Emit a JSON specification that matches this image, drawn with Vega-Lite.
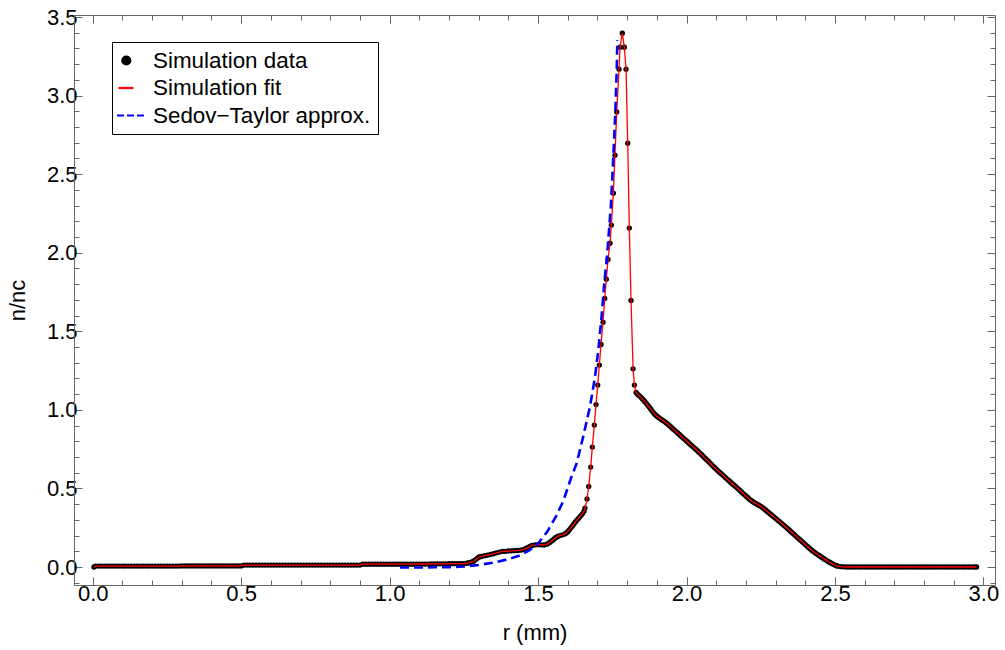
{
  "$schema": "https://vega.github.io/schema/vega-lite/v6.json",
  "width": 921,
  "height": 570,
  "autosize": "none",
  "padding": {"left": 74, "top": 15, "right": 10, "bottom": 65},
  "background": "white",
  "config": {"view": {"stroke": null}, "font": "Liberation Sans"},
  "datasets": {
    "sim": [
      {"r":0.004,"n":0.0},{"r":0.01,"n":0.006},{"r":0.02,"n":0.006},{"r":0.03,"n":0.006},{"r":0.04,"n":0.006},{"r":0.05,"n":0.006},{"r":0.06,"n":0.006},{"r":0.07,"n":0.006},{"r":0.08,"n":0.006},{"r":0.09,"n":0.006},{"r":0.10,"n":0.006},
      {"r":0.11,"n":0.006},{"r":0.12,"n":0.006},{"r":0.13,"n":0.006},{"r":0.14,"n":0.006},{"r":0.15,"n":0.006},{"r":0.16,"n":0.006},{"r":0.17,"n":0.006},{"r":0.18,"n":0.006},{"r":0.19,"n":0.006},{"r":0.20,"n":0.006},
      {"r":0.21,"n":0.006},{"r":0.22,"n":0.006},{"r":0.23,"n":0.006},{"r":0.24,"n":0.006},{"r":0.25,"n":0.006},{"r":0.26,"n":0.006},{"r":0.27,"n":0.006},{"r":0.28,"n":0.006},{"r":0.29,"n":0.006},{"r":0.30,"n":0.007},
      {"r":0.31,"n":0.007},{"r":0.32,"n":0.007},{"r":0.33,"n":0.007},{"r":0.34,"n":0.007},{"r":0.35,"n":0.007},{"r":0.36,"n":0.007},{"r":0.37,"n":0.007},{"r":0.38,"n":0.007},{"r":0.39,"n":0.007},{"r":0.40,"n":0.007},
      {"r":0.41,"n":0.007},{"r":0.42,"n":0.007},{"r":0.43,"n":0.007},{"r":0.44,"n":0.007},{"r":0.45,"n":0.007},{"r":0.46,"n":0.007},{"r":0.47,"n":0.007},{"r":0.48,"n":0.007},{"r":0.49,"n":0.007},{"r":0.50,"n":0.007},
      {"r":0.51,"n":0.012},{"r":0.52,"n":0.012},{"r":0.53,"n":0.012},{"r":0.54,"n":0.012},{"r":0.55,"n":0.012},{"r":0.56,"n":0.012},{"r":0.57,"n":0.012},{"r":0.58,"n":0.012},{"r":0.59,"n":0.012},{"r":0.60,"n":0.012},
      {"r":0.61,"n":0.012},{"r":0.62,"n":0.012},{"r":0.63,"n":0.012},{"r":0.64,"n":0.012},{"r":0.65,"n":0.012},{"r":0.66,"n":0.012},{"r":0.67,"n":0.012},{"r":0.68,"n":0.012},{"r":0.69,"n":0.012},{"r":0.70,"n":0.012},
      {"r":0.71,"n":0.012},{"r":0.72,"n":0.012},{"r":0.73,"n":0.012},{"r":0.74,"n":0.012},{"r":0.75,"n":0.012},{"r":0.76,"n":0.012},{"r":0.77,"n":0.012},{"r":0.78,"n":0.012},{"r":0.79,"n":0.012},{"r":0.80,"n":0.012},
      {"r":0.81,"n":0.012},{"r":0.82,"n":0.012},{"r":0.83,"n":0.012},{"r":0.84,"n":0.012},{"r":0.85,"n":0.012},{"r":0.86,"n":0.012},{"r":0.87,"n":0.012},{"r":0.88,"n":0.012},{"r":0.89,"n":0.012},{"r":0.90,"n":0.012},
      {"r":0.91,"n":0.018},{"r":0.92,"n":0.018},{"r":0.93,"n":0.018},{"r":0.94,"n":0.018},{"r":0.95,"n":0.018},{"r":0.96,"n":0.018},{"r":0.97,"n":0.018},{"r":0.98,"n":0.018},{"r":0.99,"n":0.018},{"r":1.00,"n":0.018},
      {"r":1.01,"n":0.018},{"r":1.02,"n":0.018},{"r":1.03,"n":0.018},{"r":1.04,"n":0.018},{"r":1.05,"n":0.018},{"r":1.06,"n":0.018},{"r":1.07,"n":0.018},{"r":1.08,"n":0.018},{"r":1.09,"n":0.019},{"r":1.10,"n":0.019},
      {"r":1.11,"n":0.019},{"r":1.12,"n":0.019},{"r":1.13,"n":0.019},{"r":1.14,"n":0.020},{"r":1.15,"n":0.020},{"r":1.16,"n":0.020},{"r":1.17,"n":0.020},{"r":1.18,"n":0.020},{"r":1.19,"n":0.020},{"r":1.20,"n":0.021},
      {"r":1.21,"n":0.021},{"r":1.22,"n":0.021},{"r":1.23,"n":0.021},{"r":1.24,"n":0.022},{"r":1.25,"n":0.022},{"r":1.26,"n":0.024},{"r":1.265,"n":0.026},{"r":1.27,"n":0.028},{"r":1.275,"n":0.031},{"r":1.28,"n":0.034},{"r":1.285,"n":0.040},{"r":1.29,"n":0.047},{"r":1.295,"n":0.055},{"r":1.30,"n":0.062},
      {"r":1.305,"n":0.066},{"r":1.31,"n":0.068},{"r":1.32,"n":0.072},{"r":1.33,"n":0.076},{"r":1.34,"n":0.080},{"r":1.35,"n":0.085},{"r":1.36,"n":0.090},{"r":1.37,"n":0.095},{"r":1.38,"n":0.099},{"r":1.39,"n":0.100},{"r":1.40,"n":0.102},
      {"r":1.41,"n":0.103},{"r":1.42,"n":0.104},{"r":1.43,"n":0.105},{"r":1.44,"n":0.107},{"r":1.45,"n":0.110},{"r":1.455,"n":0.114},{"r":1.46,"n":0.118},{"r":1.465,"n":0.123},{"r":1.47,"n":0.128},{"r":1.475,"n":0.133},{"r":1.48,"n":0.137},{"r":1.49,"n":0.141},{"r":1.50,"n":0.142},
      {"r":1.51,"n":0.141},{"r":1.52,"n":0.140},{"r":1.53,"n":0.145},{"r":1.535,"n":0.151},{"r":1.54,"n":0.158},{"r":1.545,"n":0.165},{"r":1.55,"n":0.172},{"r":1.555,"n":0.180},{"r":1.56,"n":0.188},{"r":1.565,"n":0.193},{"r":1.57,"n":0.198},{"r":1.58,"n":0.203},{"r":1.59,"n":0.210},{"r":1.595,"n":0.217},{"r":1.60,"n":0.225},
      {"r":1.605,"n":0.236},{"r":1.61,"n":0.248},{"r":1.615,"n":0.260},{"r":1.62,"n":0.272},{"r":1.625,"n":0.285},{"r":1.63,"n":0.297},{"r":1.635,"n":0.307},{"r":1.64,"n":0.318},{"r":1.645,"n":0.329},{"r":1.65,"n":0.340},{"r":1.655,"n":0.357},{"r":1.658,"n":0.375},
      {"r":1.6649,"n":0.433},{"r":1.6706,"n":0.513},{"r":1.6773,"n":0.636},{"r":1.6827,"n":0.763},{"r":1.6895,"n":0.903},{"r":1.6952,"n":1.034},{"r":1.701,"n":1.158},{"r":1.7063,"n":1.285},{"r":1.712,"n":1.416},{"r":1.7188,"n":1.558},
      {"r":1.7245,"n":1.709},{"r":1.730,"n":1.832},{"r":1.7356,"n":1.957},{"r":1.7424,"n":2.061},{"r":1.7468,"n":2.176},{"r":1.7535,"n":2.379},{"r":1.759,"n":2.621},{"r":1.7649,"n":2.896},{"r":1.7727,"n":3.168},{"r":1.776,"n":3.308},
      {"r":1.7838,"n":3.397},{"r":1.7906,"n":3.308},{"r":1.7963,"n":3.168},{"r":1.802,"n":2.697},{"r":1.8073,"n":2.157},{"r":1.8131,"n":1.696},{"r":1.820,"n":1.261},{"r":1.8245,"n":1.158},{"r":1.830,"n":1.111},
      {"r":1.835,"n":1.100},{"r":1.84,"n":1.092},{"r":1.845,"n":1.083},{"r":1.85,"n":1.073},{"r":1.855,"n":1.063},{"r":1.86,"n":1.052},{"r":1.865,"n":1.040},{"r":1.87,"n":1.028},{"r":1.875,"n":1.016},{"r":1.88,"n":1.004},{"r":1.885,"n":0.991},{"r":1.89,"n":0.979},{"r":1.895,"n":0.969},{"r":1.90,"n":0.960},
      {"r":1.905,"n":0.953},{"r":1.91,"n":0.946},{"r":1.915,"n":0.940},{"r":1.92,"n":0.933},{"r":1.925,"n":0.927},{"r":1.93,"n":0.920},{"r":1.935,"n":0.912},{"r":1.94,"n":0.904},{"r":1.945,"n":0.896},{"r":1.95,"n":0.887},{"r":1.955,"n":0.879},{"r":1.96,"n":0.870},{"r":1.965,"n":0.862},{"r":1.97,"n":0.853},{"r":1.975,"n":0.845},{"r":1.98,"n":0.836},{"r":1.985,"n":0.828},{"r":1.99,"n":0.819},{"r":1.995,"n":0.811},{"r":2.00,"n":0.802},
      {"r":2.005,"n":0.794},{"r":2.01,"n":0.785},{"r":2.015,"n":0.777},{"r":2.02,"n":0.768},{"r":2.025,"n":0.760},{"r":2.03,"n":0.751},{"r":2.035,"n":0.743},{"r":2.04,"n":0.734},{"r":2.045,"n":0.725},{"r":2.05,"n":0.716},{"r":2.055,"n":0.707},{"r":2.06,"n":0.697},{"r":2.065,"n":0.688},{"r":2.07,"n":0.679},{"r":2.075,"n":0.670},{"r":2.08,"n":0.660},{"r":2.085,"n":0.651},{"r":2.09,"n":0.641},{"r":2.095,"n":0.632},{"r":2.10,"n":0.623},
      {"r":2.105,"n":0.614},{"r":2.11,"n":0.605},{"r":2.115,"n":0.597},{"r":2.12,"n":0.588},{"r":2.125,"n":0.580},{"r":2.13,"n":0.571},{"r":2.135,"n":0.563},{"r":2.14,"n":0.554},{"r":2.145,"n":0.546},{"r":2.15,"n":0.537},{"r":2.155,"n":0.529},{"r":2.16,"n":0.521},{"r":2.165,"n":0.513},{"r":2.17,"n":0.504},{"r":2.175,"n":0.496},{"r":2.18,"n":0.487},{"r":2.185,"n":0.478},{"r":2.19,"n":0.469},{"r":2.195,"n":0.461},{"r":2.20,"n":0.452},
      {"r":2.205,"n":0.444},{"r":2.21,"n":0.435},{"r":2.215,"n":0.427},{"r":2.22,"n":0.420},{"r":2.225,"n":0.414},{"r":2.23,"n":0.408},{"r":2.235,"n":0.403},{"r":2.24,"n":0.397},{"r":2.245,"n":0.392},{"r":2.25,"n":0.386},{"r":2.255,"n":0.380},{"r":2.26,"n":0.373},{"r":2.265,"n":0.365},{"r":2.27,"n":0.357},{"r":2.275,"n":0.349},{"r":2.28,"n":0.341},{"r":2.285,"n":0.333},{"r":2.29,"n":0.325},{"r":2.295,"n":0.318},{"r":2.30,"n":0.310},
      {"r":2.305,"n":0.302},{"r":2.31,"n":0.294},{"r":2.315,"n":0.286},{"r":2.32,"n":0.278},{"r":2.325,"n":0.270},{"r":2.33,"n":0.262},{"r":2.335,"n":0.254},{"r":2.34,"n":0.245},{"r":2.345,"n":0.237},{"r":2.35,"n":0.228},{"r":2.355,"n":0.220},{"r":2.36,"n":0.211},{"r":2.365,"n":0.203},{"r":2.37,"n":0.194},{"r":2.375,"n":0.186},{"r":2.38,"n":0.177},{"r":2.385,"n":0.169},{"r":2.39,"n":0.160},{"r":2.395,"n":0.152},{"r":2.40,"n":0.143},
      {"r":2.405,"n":0.135},{"r":2.41,"n":0.126},{"r":2.415,"n":0.118},{"r":2.42,"n":0.110},{"r":2.425,"n":0.102},{"r":2.43,"n":0.095},{"r":2.435,"n":0.088},{"r":2.44,"n":0.082},{"r":2.445,"n":0.075},{"r":2.45,"n":0.069},{"r":2.455,"n":0.062},{"r":2.46,"n":0.056},{"r":2.465,"n":0.050},{"r":2.47,"n":0.044},{"r":2.475,"n":0.038},{"r":2.48,"n":0.032},{"r":2.485,"n":0.027},{"r":2.49,"n":0.022},{"r":2.495,"n":0.017},{"r":2.50,"n":0.012},
      {"r":2.505,"n":0.008},{"r":2.51,"n":0.005},{"r":2.52,"n":0.002},{"r":2.53,"n":0.001},{"r":2.54,"n":0.0},{"r":2.55,"n":0.0},{"r":2.56,"n":0.0},{"r":2.57,"n":0.0},{"r":2.58,"n":0.0},{"r":2.59,"n":0.0},{"r":2.60,"n":0.0},
      {"r":2.61,"n":0.0},{"r":2.62,"n":0.0},{"r":2.63,"n":0.0},{"r":2.64,"n":0.0},{"r":2.65,"n":0.0},{"r":2.66,"n":0.0},{"r":2.67,"n":0.0},{"r":2.68,"n":0.0},{"r":2.69,"n":0.0},{"r":2.70,"n":0.0},
      {"r":2.71,"n":0.0},{"r":2.72,"n":0.0},{"r":2.73,"n":0.0},{"r":2.74,"n":0.0},{"r":2.75,"n":0.0},{"r":2.76,"n":0.0},{"r":2.77,"n":0.0},{"r":2.78,"n":0.0},{"r":2.79,"n":0.0},{"r":2.80,"n":0.0},
      {"r":2.81,"n":0.0},{"r":2.82,"n":0.0},{"r":2.83,"n":0.0},{"r":2.84,"n":0.0},{"r":2.85,"n":0.0},{"r":2.86,"n":0.0},{"r":2.87,"n":0.0},{"r":2.88,"n":0.0},{"r":2.89,"n":0.0},{"r":2.90,"n":0.0},
      {"r":2.91,"n":0.0},{"r":2.92,"n":0.0},{"r":2.93,"n":0.0},{"r":2.94,"n":0.0},{"r":2.95,"n":0.0},{"r":2.96,"n":0.0},{"r":2.97,"n":0.0},{"r":2.977,"n":0.0}
    ],
    "st": [
      {"r":1.035,"n":-0.003},{"r":1.10,"n":-0.003},{"r":1.15,"n":-0.002},{"r":1.20,"n":-0.001},{"r":1.25,"n":0.003},{"r":1.30,"n":0.013},{"r":1.35,"n":0.028},{"r":1.40,"n":0.05},{"r":1.44,"n":0.075},{"r":1.47,"n":0.105},
      {"r":1.50,"n":0.15},{"r":1.53,"n":0.222},{"r":1.56,"n":0.32},{"r":1.585,"n":0.42},{"r":1.61,"n":0.56},{"r":1.63,"n":0.66},{"r":1.652,"n":0.83},{"r":1.675,"n":1.022},{"r":1.692,"n":1.212},{"r":1.703,"n":1.382},
      {"r":1.714,"n":1.594},{"r":1.723,"n":1.807},{"r":1.732,"n":1.97},{"r":1.745,"n":2.294},{"r":1.753,"n":2.591},{"r":1.760,"n":2.888},{"r":1.765,"n":3.164},{"r":1.767,"n":3.354}
    ]
  },
  "layer": [
    {
      "data": {"name": "sim"},
      "mark": {"type": "circle", "size": 28, "opacity": 1, "color": "black"},
      "encoding": {
        "x": {"field": "r", "type": "quantitative",
          "scale": {"domain": [-0.063, 3.039], "nice": false, "zero": false},
          "axis": {"orient": "bottom", "values": [0, 0.5, 1, 1.5, 2, 2.5, 3], "format": ".1f", "tickSize": -8, "tickColor": "#666", "domainColor": "#666", "grid": false,
            "labelFont": "Liberation Sans", "labelFontSize": 22, "labelColor": "black", "labelPadding": 6, "labelFlush": false,
            "title": "r (mm)", "titleFont": "Liberation Sans", "titleFontSize": 22, "titleFontWeight": "normal", "titleColor": "black", "titlePadding": 18}},
        "y": {"field": "n", "type": "quantitative",
          "scale": {"domain": [-0.1145, 3.513], "nice": false, "zero": false},
          "axis": {"orient": "left", "values": [0, 0.5, 1, 1.5, 2, 2.5, 3, 3.5], "format": ".1f", "tickSize": -8, "tickColor": "#666", "domainColor": "#666", "grid": false,
            "labelFont": "Liberation Sans", "labelFontSize": 22, "labelColor": "black", "labelPadding": 5, "labelFlush": false,
            "title": "n/nc", "titleFont": "Liberation Sans", "titleFontSize": 22, "titleFontWeight": "normal", "titleColor": "black", "titlePadding": 17}}
      }
    },
    {
      "data": {"name": "sim"},
      "mark": {"type": "line", "color": "red", "strokeWidth": 1.3},
      "encoding": {
        "x": {"field": "r", "type": "quantitative",
          "axis": {"orient": "bottom", "values": [0.1,0.2,0.3,0.4,0.6,0.7,0.8,0.9,1.1,1.2,1.3,1.4,1.6,1.7,1.8,1.9,2.1,2.2,2.3,2.4,2.6,2.7,2.8,2.9], "tickSize": -5, "tickColor": "#666", "labels": false, "domain": false, "grid": false, "title": null}},
        "y": {"field": "n", "type": "quantitative",
          "axis": {"orient": "left", "values": [-0.1,0.1,0.2,0.3,0.4,0.6,0.7,0.8,0.9,1.1,1.2,1.3,1.4,1.6,1.7,1.8,1.9,2.1,2.2,2.3,2.4,2.6,2.7,2.8,2.9,3.1,3.2,3.3,3.4], "tickSize": -5, "tickColor": "#666", "labels": false, "domain": false, "grid": false, "title": null}}
      }
    },
    {
      "data": {"name": "st"},
      "mark": {"type": "line", "color": "blue", "strokeWidth": 2.6, "strokeDash": [9, 5]},
      "encoding": {
        "x": {"field": "r", "type": "quantitative",
          "axis": {"orient": "top", "values": [0, 0.5, 1, 1.5, 2, 2.5, 3], "tickSize": -8, "tickColor": "#666", "domainColor": "#666", "labels": false, "grid": false, "title": null}},
        "y": {"field": "n", "type": "quantitative",
          "axis": {"orient": "right", "values": [0, 0.5, 1, 1.5, 2, 2.5, 3, 3.5], "tickSize": -8, "tickColor": "#666", "domainColor": "#666", "labels": false, "grid": false, "title": null}}
      }
    },
    {
      "data": {"name": "st"},
      "mark": {"type": "point", "opacity": 0},
      "encoding": {
        "x": {"field": "r", "type": "quantitative",
          "axis": {"orient": "top", "values": [0.1,0.2,0.3,0.4,0.6,0.7,0.8,0.9,1.1,1.2,1.3,1.4,1.6,1.7,1.8,1.9,2.1,2.2,2.3,2.4,2.6,2.7,2.8,2.9], "tickSize": -5, "tickColor": "#666", "labels": false, "domain": false, "grid": false, "title": null}},
        "y": {"field": "n", "type": "quantitative",
          "axis": {"orient": "right", "values": [-0.1,0.1,0.2,0.3,0.4,0.6,0.7,0.8,0.9,1.1,1.2,1.3,1.4,1.6,1.7,1.8,1.9,2.1,2.2,2.3,2.4,2.6,2.7,2.8,2.9,3.1,3.2,3.3,3.4], "tickSize": -5, "tickColor": "#666", "labels": false, "domain": false, "grid": false, "title": null}}
      }
    },
    {
      "data": {"name": "st"},
      "transform": [{"filter": "datum.r > 100"}],
      "mark": {"type": "point", "filled": true},
      "encoding": {
        "x": {"field": "r", "type": "quantitative", "axis": null},
        "y": {"field": "n", "type": "quantitative", "axis": null},
        "color": {"datum": "Simulation data",
          "scale": {"domain": ["Simulation data", "Simulation fit", "Sedov−Taylor approx."], "range": ["black", "red", "blue"]},
          "legend": {"title": null, "orient": "none", "legendX": 38, "legendY": 27, "padding": 7, "strokeColor": "black", "fillColor": "white",
            "labelFont": "Liberation Sans", "labelFontSize": 22.4, "labelColor": "black", "labelOffset": 11, "labelLimit": 0, "rowPadding": 4.5,
            "symbolSize": 400, "symbolStrokeWidth": 2.2, "symbolOpacity": 1}},
        "stroke": {"datum": "Simulation data",
          "scale": {"domain": ["Simulation data", "Simulation fit", "Sedov−Taylor approx."], "range": ["black", "red", "blue"]}},
        "shape": {"datum": "Simulation data",
          "scale": {"domain": ["Simulation data", "Simulation fit", "Sedov−Taylor approx."],
            "range": ["M-0.02,0A0.4,0.4,0,1,1,-0.82,0A0.4,0.4,0,1,1,-0.02,0Z", "M-1.2,0H0.3", "M-1.35,0H-0.65M-0.35,0H0.35M0.65,0H1.35"]}}
      }
    }
  ],
  "resolve": {"axis": {"x": "independent", "y": "independent"}}
}
